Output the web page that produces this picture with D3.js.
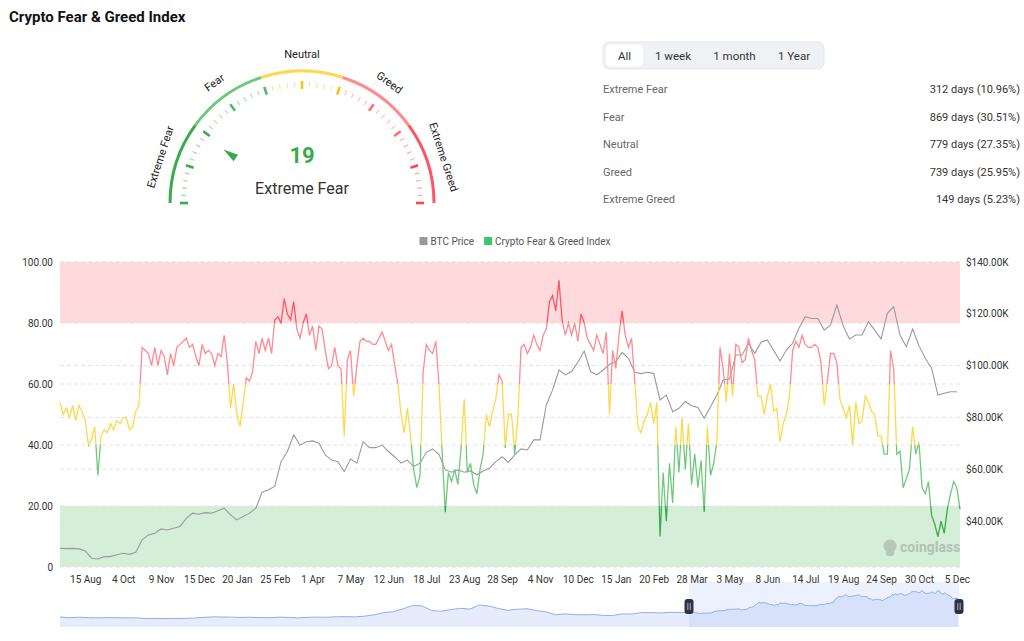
<!DOCTYPE html>
<html>
<head>
<meta charset="utf-8">
<script src="https://cdn.jsdelivr.net/npm/d3@7"></script>
<style>
    body { margin: 0; background: #fff; font-family: Roboto, "Noto Sans", sans-serif; }
    svg { display: block; }
</style>
</head>
<body>
<svg id="chart" width="1024" height="641"></svg>
<script>
'use strict';

// ---- data ----
var currentValue = 19;
var currentLabel = "Extreme Fear";
var zoneNames = ["Extreme Fear", "Fear", "Neutral", "Greed", "Extreme Greed"];
var zoneDays = [312, 869, 779, 739, 149];
var zonePct = ["10.96%", "30.51%", "27.35%", "25.95%", "5.23%"];
var zoneLimits = [0, 20, 40, 60, 80, 100];
var rangeButtons = ["All", "1 week", "1 month", "1 Year"];

var tickLabels = ["15 Aug", "4 Oct", "9 Nov", "15 Dec", "20 Jan", "25 Feb", "1 Apr", "7 May",
    "12 Jun", "18 Jul", "23 Aug", "28 Sep", "4 Nov", "10 Dec", "15 Jan", "20 Feb", "28 Mar",
    "3 May", "8 Jun", "14 Jul", "19 Aug", "24 Sep", "30 Oct", "5 Dec"];
var firstTickIndex = 24;
var tickEvery = 36;
var dayCount = 856;

var leftTicks = [0, 20, 40, 60, 80, 100];
var rightTicks = [40, 60, 80, 100, 120, 140];
var priceMin = 22.2, priceMax = 140;

// fear & greed index, one value every 3 days
var fgiStep = 3;
var fgiValues = [
    54, 50, 52, 49, 53, 48, 53, 51, 48, 40, 42, 46, 30, 43, 45, 44, 47, 45, 48, 47,
    49, 49, 45, 46, 51, 53, 72, 71, 70, 66, 72, 66, 71, 69, 63, 70, 66, 72, 73, 74,
    75, 72, 73, 69, 66, 73, 70, 71, 70, 66, 70, 69, 76, 67, 52, 60, 50, 46, 54, 62,
    61, 64, 74, 70, 75, 71, 75, 70, 81, 82, 80, 88, 83, 81, 87, 78, 75, 80, 83, 76,
    79, 71, 79, 78, 71, 65, 66, 72, 66, 65, 43, 68, 71, 56, 66, 74, 75, 74, 74, 73,
    73, 75, 77, 74, 71, 73, 66, 60, 50, 44, 52, 43, 32, 26, 30, 64, 73, 71, 70, 74,
    60, 38, 18, 31, 28, 32, 27, 39, 55, 31, 34, 27, 24, 32, 37, 50, 46, 51, 55, 63,
    61, 39, 50, 50, 37, 49, 72, 73, 70, 72, 76, 73, 71, 76, 78, 87, 89, 84, 94, 81,
    76, 80, 76, 80, 74, 83, 80, 75, 73, 71, 76, 73, 70, 77, 50, 71, 65, 76, 84, 76,
    72, 75, 61, 46, 44, 48, 50, 54, 47, 54, 10, 31, 15, 34, 21, 46, 31, 49, 32, 47,
    27, 37, 26, 35, 18, 46, 30, 34, 41, 72, 65, 54, 70, 56, 73, 72, 67, 68, 75, 71,
    68, 56, 56, 50, 56, 60, 51, 52, 41, 47, 50, 56, 71, 74, 72, 76, 73, 72, 72, 73,
    72, 67, 53, 61, 70, 70, 67, 55, 52, 49, 53, 40, 54, 47, 48, 56, 54, 51, 50, 43,
    43, 37, 37, 71, 65, 37, 38, 26, 29, 32, 46, 37, 41, 26, 24, 28, 17, 14, 10, 15,
    11, 19, 24, 28, 26, 19
];

// BTC price in thousand USD, one value every 6 days
var btcStep = 6;
var btcValues = [
    29.4, 29.3, 29.4, 29.2, 28.4, 25.6, 25.3, 26.2, 26.2, 26.9, 27.5, 27.1, 27.9, 32.7, 34.6,
    35.2, 36.9, 36.5, 37.2, 37.8, 41.0, 43.0, 42.6, 43.2, 43.0, 43.9, 44.9, 42.3, 40.4, 41.7,
    43.0, 44.9, 51.1, 52.0, 53.3, 62.9, 66.8, 73.2, 69.3, 70.6, 70.9, 70.0, 65.5, 63.5, 62.9,
    59.1, 63.9, 62.3, 70.6, 68.3, 68.3, 69.3, 66.8, 64.8, 62.3, 63.5, 61.0, 62.3, 66.5, 67.8,
    65.7, 59.7, 58.8, 59.7, 58.8, 59.3, 57.8, 59.3, 60.3, 62.9, 64.8, 62.6, 65.5, 67.8, 67.4,
    71.3, 71.3, 84.8, 90.6, 98.3, 96.4, 97.7, 101.3, 105.6, 97.7, 96.4, 98.3, 100.5, 101.5, 105.1,
    102.8, 97.4, 96.9, 97.4, 97.0, 86.7, 88.6, 82.2, 83.5, 86.1, 84.5, 83.8, 79.6, 84.1, 88.6,
    94.4, 94.8, 104.1, 104.1, 108.6, 104.7, 109.0, 109.9, 105.8, 101.8, 106.0, 108.6, 114.4, 118.9, 118.2,
    118.2, 113.7, 115.7, 123.4, 115.4, 110.3, 111.8, 111.8, 117.0, 113.7, 110.3, 120.2, 122.8, 111.8, 107.3,
    114.1, 107.7, 102.8, 99.0, 88.6, 89.3, 89.9, 89.9
];

// BTC monthly history before the zoomed window (thousand USD), for the slider
var btcHistory = [
    10.3, 7.0, 9.2, 7.5, 6.4, 7.7, 7.0, 6.6, 6.3, 4.0, 3.7,
    3.5, 3.8, 4.1, 5.3, 8.6, 10.8, 10.1, 9.6, 8.3, 9.2, 7.6, 7.2,
    9.4, 8.6, 6.4, 8.6, 9.5, 9.1, 11.3, 11.7, 10.8, 13.8, 19.7, 29.0,
    33.1, 45.2, 58.8, 57.7, 37.3, 35.0, 41.5, 47.1, 43.8, 61.3, 57.0, 46.3,
    38.5, 43.2, 45.5, 37.7, 31.8, 19.8, 23.3, 20.0, 19.4, 20.5, 17.2, 16.5,
    23.1, 23.1, 28.5, 29.3, 27.2, 30.5, 29.2
];

var zoneColors = ["#3aab4c", "#6fc97d", "#ffd84a", "#ff8a90", "#ff5560"];
var zoneTickColors = ["#3aab4c", "#54b863", "#f5c518", "#ff6c74", "#ff4550"];

var svg = d3.select("#chart");

// zone index of a value, a boundary value belongs to the lower zone
function zoneOf(v) {
    var i;
    for (i = 0; i < 4; i++) {
        if (v <= zoneLimits[i + 1]) return i;
    }
    return 4;
}

// ---- title ----
svg.append("text")
    .attr("x", 9).attr("y", 22)
    .attr("font-size", 15).attr("font-weight", 700).attr("fill", "#111")
    .text("Crypto Fear & Greed Index");

// ---- gauge ----
function drawGauge() {
    var cx = 302, cy = 203, r = 132;
    var g = svg.append("g").attr("transform", "translate(" + cx + "," + cy + ")");
    var ang = d3.scaleLinear().domain([0, 100]).range([-Math.PI / 2, Math.PI / 2]);
    var arc = d3.arc().innerRadius(r - 1.5).outerRadius(r + 1.5);
    var i, v, a, inner, outer, major;

    for (i = 0; i < 5; i++) {
        g.append("path")
            .attr("d", arc({startAngle: ang(zoneLimits[i]), endAngle: ang(zoneLimits[i + 1])}))
            .attr("fill", zoneColors[i]);
    }

    for (v = 0; v <= 100; v += 2) {
        a = ang(v);
        major = v % 10 === 0;
        inner = major ? r - 18 : r - 16;
        outer = major ? r - 10 : r - 11;
        g.append("line")
            .attr("x1", inner * Math.sin(a)).attr("y1", -inner * Math.cos(a))
            .attr("x2", outer * Math.sin(a)).attr("y2", -outer * Math.cos(a))
            .attr("stroke", zoneTickColors[zoneOf(v)])
            .attr("stroke-opacity", major ? 1 : 0.45)
            .attr("stroke-width", major ? 2.6 : 1.2);
    }

    // zone names around the arc
    zoneNames.forEach(function(name, k) {
        var mid = (zoneLimits[k] + zoneLimits[k + 1]) / 2;
        var aa = ang(mid);
        var rr = r + 17;
        g.append("text")
            .attr("transform", "translate(" + (rr * Math.sin(aa)) + "," + (-rr * Math.cos(aa)) + ") rotate(" + (aa * 180 / Math.PI) + ")")
            .attr("text-anchor", "middle").attr("dy", "0.35em")
            .attr("font-size", 11).attr("fill", "#222")
            .text(name);
    });

    // pointer
    var pa = ang(currentValue) * 180 / Math.PI;
    g.append("path")
        .attr("d", "M0,-95 L-4,-80 L4,-80 Z")
        .attr("transform", "rotate(" + pa + ")")
        .attr("fill", zoneTickColors[zoneOf(currentValue)]);

    g.append("text")
        .attr("x", 0).attr("y", -40)
        .attr("text-anchor", "middle")
        .attr("font-size", 22).attr("font-weight", 700)
        .attr("fill", zoneTickColors[zoneOf(currentValue)])
        .text(currentValue);

    g.append("text")
        .attr("x", 0).attr("y", -9)
        .attr("text-anchor", "middle")
        .attr("font-size", 16).attr("fill", "#333")
        .text(currentLabel);
}

// ---- right panel: range buttons and zone stats ----
function drawStats() {
    var g = svg.append("g");
    var btnX = [606, 645, 703, 768];
    var btnW = [37, 56, 63, 52];

    g.append("rect")
        .attr("x", 603).attr("y", 42).attr("width", 221).attr("height", 27)
        .attr("rx", 6).attr("fill", "#eff1f4").attr("stroke", "#e4e7eb");
    g.append("rect")
        .attr("x", btnX[0]).attr("y", 44.5).attr("width", btnW[0]).attr("height", 22)
        .attr("rx", 5).attr("fill", "#fff");

    rangeButtons.forEach(function(label, i) {
        g.append("text")
            .attr("x", btnX[i] + btnW[i] / 2).attr("y", 59.5)
            .attr("text-anchor", "middle")
            .attr("font-size", 11.5).attr("fill", "#333")
            .text(label);
    });

    zoneNames.forEach(function(name, i) {
        var y = 93 + i * 27.5;
        g.append("text")
            .attr("x", 603).attr("y", y)
            .attr("font-size", 11).attr("fill", "#666")
            .text(name);
        g.append("text")
            .attr("x", 1020).attr("y", y)
            .attr("text-anchor", "end")
            .attr("font-size", 11).attr("fill", "#333")
            .text(zoneDays[i] + " days (" + zonePct[i] + ")");
    });
}

// ---- main chart ----
function drawMain() {
    var left = 60, right = 960, top = 262, bottom = 567;
    var x = d3.scaleLinear().domain([0, dayCount - 1]).range([left, right]);
    var yF = d3.scaleLinear().domain([0, 100]).range([bottom, top]);
    var yP = d3.scaleLinear().domain([priceMin, priceMax]).range([bottom, top]);
    var g = svg.append("g");

    // greed / fear bands
    g.append("rect")
        .attr("x", left).attr("width", right - left)
        .attr("y", yF(100)).attr("height", yF(80) - yF(100))
        .attr("fill", "#ffd9dc");
    g.append("rect")
        .attr("x", left).attr("width", right - left)
        .attr("y", yF(20)).attr("height", yF(0) - yF(20))
        .attr("fill", "#d4eed7");

    // dashed grid for both axes
    leftTicks.forEach(function(t) {
        g.append("line")
            .attr("x1", left).attr("x2", right)
            .attr("y1", yF(t)).attr("y2", yF(t))
            .attr("stroke", "#e3e3e3").attr("stroke-dasharray", "4,3");
    });
    rightTicks.forEach(function(t) {
        g.append("line")
            .attr("x1", left).attr("x2", right)
            .attr("y1", yP(t)).attr("y2", yP(t))
            .attr("stroke", "#e3e3e3").attr("stroke-dasharray", "4,3");
    });

    // axes
    var axisLeft = d3.axisLeft(yF).tickValues(leftTicks).tickSize(0).tickPadding(7)
        .tickFormat(function(d) { return d === 0 ? "0" : d3.format(".2f")(d); });
    var axisRight = d3.axisRight(yP).tickValues(rightTicks).tickSize(0).tickPadding(6)
        .tickFormat(function(d) { return "$" + d3.format(".2f")(d) + "K"; });
    var tickIdx = tickLabels.map(function(d, i) { return firstTickIndex + i * tickEvery; });
    var axisBottom = d3.axisBottom(x).tickValues(tickIdx).tickSize(0).tickPadding(9)
        .tickFormat(function(d, i) { return tickLabels[i]; });

    [[axisLeft, "translate(" + left + ",0)"],
     [axisRight, "translate(" + right + ",0)"],
     [axisBottom, "translate(0," + bottom + ")"]].forEach(function(pair) {
        var ax = g.append("g").attr("transform", pair[1]).call(pair[0]);
        ax.select(".domain").remove();
        ax.selectAll("text").attr("font-size", 10).attr("fill", "#333")
            .attr("font-family", "Roboto, 'Noto Sans', sans-serif");
    });

    // BTC price
    var btcLine = d3.line()
        .x(function(d, i) { return x(i * btcStep); })
        .y(function(d) { return yP(d); });
    g.append("path")
        .datum(btcValues)
        .attr("d", btcLine)
        .attr("fill", "none").attr("stroke", "#9a9a9a").attr("stroke-width", 1.1);

    // fear & greed line coloured by value band
    var grad = svg.append("defs").append("linearGradient")
        .attr("id", "fgiGrad").attr("gradientUnits", "userSpaceOnUse")
        .attr("x1", 0).attr("x2", 0).attr("y1", yF(100)).attr("y2", yF(0));
    var k;
    for (k = 4; k >= 0; k--) {
        grad.append("stop").attr("offset", (100 - zoneLimits[k + 1]) / 100).attr("stop-color", zoneColors[k]);
        grad.append("stop").attr("offset", (100 - zoneLimits[k]) / 100).attr("stop-color", zoneColors[k]);
    }
    var fgiLine = d3.line()
        .x(function(d, i) { return x(i * fgiStep); })
        .y(function(d) { return yF(d); });
    g.append("path")
        .datum(fgiValues)
        .attr("d", fgiLine)
        .attr("fill", "none").attr("stroke", "url(#fgiGrad)").attr("stroke-width", 1.3);

    // watermark
    var wm = g.append("g").attr("opacity", 0.28);
    wm.append("circle").attr("cx", 890).attr("cy", 546).attr("r", 6.5).attr("fill", "#666");
    wm.append("rect").attr("x", 886).attr("y", 549).attr("width", 8).attr("height", 7).attr("rx", 2).attr("fill", "#666");
    wm.append("text")
        .attr("x", 900).attr("y", 552)
        .attr("font-size", 14).attr("font-weight", 700).attr("fill", "#555")
        .text("coinglass");
}

// ---- legend ----
function drawLegend() {
    var items = [["BTC Price", "#999999"], ["Crypto Fear & Greed Index", "#3cc46e"]];
    var g = svg.append("g");
    var cursor = 0;
    items.forEach(function(item) {
        g.append("rect")
            .attr("x", cursor).attr("y", -4).attr("width", 8).attr("height", 8)
            .attr("fill", item[1]);
        var t = g.append("text")
            .attr("x", cursor + 11).attr("y", 3.5)
            .attr("font-size", 10).attr("fill", "#555")
            .text(item[0]);
        cursor += 11 + t.node().getComputedTextLength() + 10;
    });
    g.attr("transform", "translate(" + (515 - (cursor - 10) / 2) + ",241)");
}

// ---- slider with full history ----
function drawSlider() {
    var left = 60, right = 959, top = 582, bottom = 627;
    var totalDays = d3.sum(zoneDays);
    var histDays = totalDays - dayCount;
    var points = [];
    btcHistory.forEach(function(v, i) {
        points.push([i * histDays / btcHistory.length, v]);
    });
    btcValues.forEach(function(v, i) {
        points.push([histDays + i * btcStep, v]);
    });
    var ext = d3.extent(points, function(d) { return d[1]; });
    var pad = (ext[1] - ext[0]) * 0.3;
    var x = d3.scaleLinear().domain([0, totalDays - 1]).range([left, right]);
    var y = d3.scaleLinear().domain([ext[0] - pad, ext[1] + pad]).range([bottom, top]);
    var g = svg.append("g");

    g.append("path")
        .datum(points)
        .attr("d", d3.area().x(function(d) { return x(d[0]); }).y0(bottom).y1(function(d) { return y(d[1]); }))
        .attr("fill", "#e6ecfb");
    g.append("path")
        .datum(points)
        .attr("d", d3.line().x(function(d) { return x(d[0]); }).y(function(d) { return y(d[1]); }))
        .attr("fill", "none").attr("stroke", "#94adf0").attr("stroke-width", 1);

    var sx = x(histDays);
    g.append("rect")
        .attr("x", sx).attr("y", top).attr("width", right - sx).attr("height", bottom - top)
        .attr("fill", "#8aa6f0").attr("fill-opacity", 0.16);

    [sx, right].forEach(function(hx) {
        g.append("rect")
            .attr("x", hx - 4.5).attr("y", 599).attr("width", 9).attr("height", 15)
            .attr("rx", 3).attr("fill", "#2c3344");
        g.append("line").attr("x1", hx - 1.2).attr("x2", hx - 1.2).attr("y1", 603).attr("y2", 610)
            .attr("stroke", "#c8cdd8").attr("stroke-width", 0.8);
        g.append("line").attr("x1", hx + 1.2).attr("x2", hx + 1.2).attr("y1", 603).attr("y2", 610)
            .attr("stroke", "#c8cdd8").attr("stroke-width", 0.8);
    });
}

drawGauge();
drawStats();
drawLegend();
drawMain();
drawSlider();
</script>
</body>
</html>
